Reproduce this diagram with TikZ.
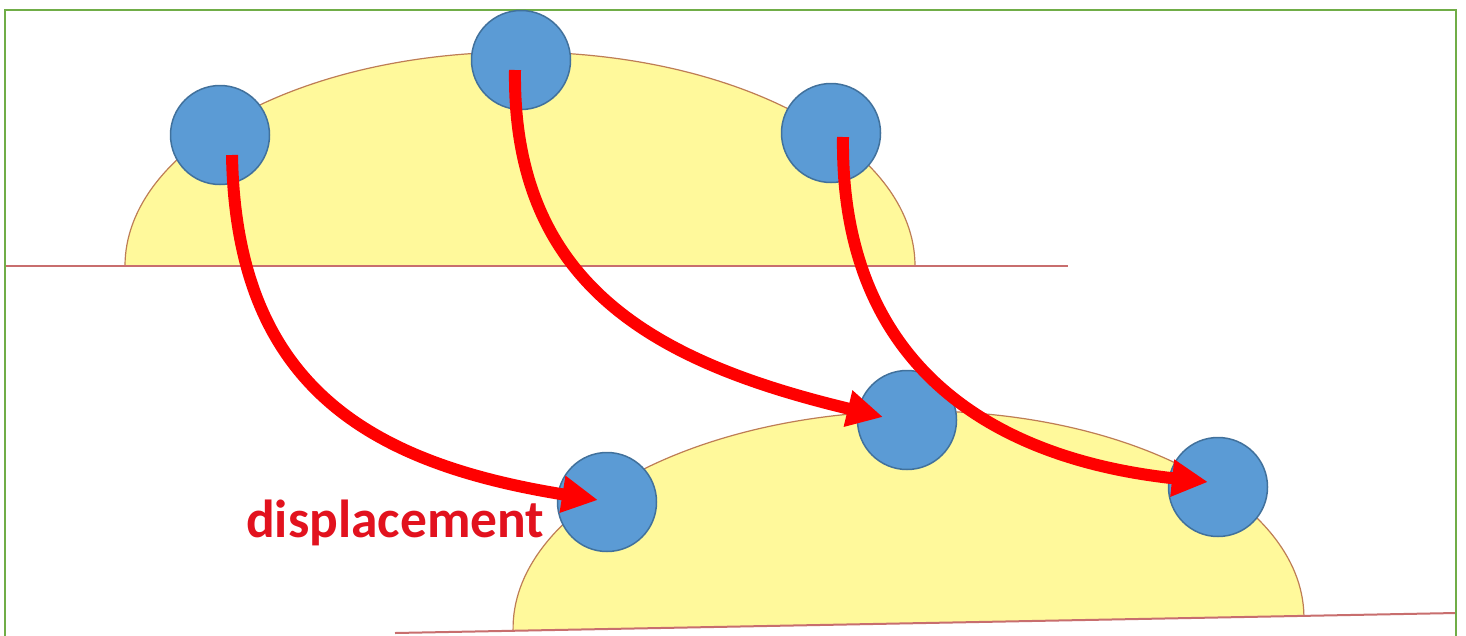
\documentclass[tikz,border=0pt]{standalone}
\usepackage{fontspec}
\setmainfont{Carlito}
\usetikzlibrary{arrows.meta}
\definecolor{dropfill}{RGB}{255,249,155}
\definecolor{dropline}{RGB}{190,125,85}
\definecolor{baseln}{RGB}{200,110,110}
\definecolor{ballfill}{RGB}{91,155,213}
\definecolor{balldraw}{RGB}{65,113,156}
\definecolor{framegreen}{RGB}{112,173,71}
\definecolor{txtred}{RGB}{226,18,30}
\tikzset{
  drop/.style={fill=dropfill, draw=dropline, line width=1.2pt},
  baseline/.style={draw=baseln, line width=2pt},
  ball/.style={circle, fill=ballfill, draw=balldraw, line width=1.5pt, minimum size=99pt, inner sep=0pt},
  move/.style={draw=red, line width=12pt, -{Triangle[length=36pt,width=35pt]}},
  lbl/.style={text=txtred, font=\bfseries\fontsize{53.5}{60}\selectfont, inner sep=0pt}
}
\begin{document}
\begin{tikzpicture}[x=1pt,y=-1pt]
\useasboundingbox (0,0) rectangle (1466,635);
\fill[white] (0,0) rectangle (1466,635);
% upper droplet
\filldraw[drop] (125,266) arc[start angle=180, end angle=360, x radius=395, y radius=214];
\draw[baseline] (5,266) -- (1068,266);
% lower droplet (slightly tilted)
\begin{scope}[shift={(908.5,623)}, rotate=1.08]
  \filldraw[drop] (-395.5,0) arc[start angle=180, end angle=360, x radius=395.5, y radius=212];
\end{scope}
\draw[baseline] (395,633) -- (1456,613);
% frame
\draw[framegreen, line width=2.5pt] (5,640) -- (5,10) -- (1456,10) -- (1456,640);
% balls
\node[ball] (u1) at (220,135) {};
\node[ball] (u2) at (521,60) {};
\node[ball] (u3) at (831,133) {};
\node[ball] (l1) at (607,502) {};
\node[ball] (l2) at (907,420) {};
\node[ball] (l3) at (1218,487) {};
% displacement arrows
\draw[move] ([shift={(12,20)}]u1.center) .. controls (236,385) and (368,463) .. ([shift={(-9,-2)}]l1.center);
\draw[move] ([shift={(-6,10)}]u2.center) .. controls (512,290) and (663,364) .. ([shift={(-24,-3)}]l2.center);
\draw[move] ([shift={(12,4)}]u3.center) .. controls (840,360) and (985,458) .. ([shift={(-10,-5)}]l3.center);
% label
\node[lbl, anchor=base west] (disp) at (246,537) {displacement};
\end{tikzpicture}
\end{document}
